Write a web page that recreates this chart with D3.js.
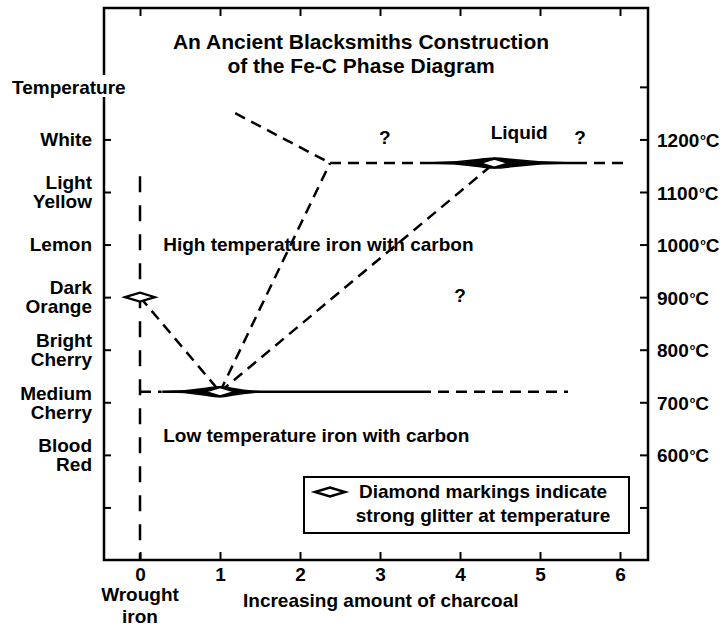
<!DOCTYPE html>
<html>
<head>
<meta charset="utf-8">
<script src="https://cdn.jsdelivr.net/npm/d3@7"></script>
<style>
  body { margin: 0; background: #fff; }
  svg text { font-family: "Liberation Sans", Arial, Helvetica, sans-serif; font-weight: bold; fill: #000; }
</style>
</head>
<body>
<script>
// ---- data ----
var charcoalTicks = [0, 1, 2, 3, 4, 5, 6];
var tempTicks = [1300, 1200, 1100, 1000, 900, 800, 700, 600, 500];
var celsiusLabels = [1200, 1100, 1000, 900, 800, 700, 600];
var colourTemps = [1200, 1100, 1000, 900, 800, 700, 600];
var colourNames = [["White"], ["Light", "Yellow"], ["Lemon"], ["Dark", "Orange"],
                   ["Bright", "Cherry"], ["Medium", "Cherry"], ["Blood", "Red"]];

// phase boundaries as [charcoal1, temp1, charcoal2, temp2]
var wroughtLine = [0, 1130, 0, 400];
var dashedLines = [
  [0, 900, 1, 720],
  [1, 720, 2.375, 1155],
  [1, 720, 4.43, 1155],
  [1.19, 1250, 2.375, 1155],
  [2.375, 1155, 3.6, 1155],
  [5.45, 1155, 6.1, 1155],
  [0, 720, 0.27, 720],
  [3.5, 720, 5.35, 720]
];
var solidLines = [
  [3.6, 1155, 5.45, 1155],
  [0.28, 720, 3.5, 720]
];
// glitter bands: [start, peak, end, temp]
var glitterBands = [
  [0.28, 1.0, 1.6, 720],
  [3.6, 4.43, 5.4, 1155]
];
var glitterPoints = [[0, 900], [1, 720], [4.43, 1155]];
var questionMarks = [[3.06, 1205], [5.5, 1205], [4.0, 904]];
var regionText = ["Liquid", "High temperature iron with carbon", "Low temperature iron with carbon"];
var regionAt = [[4.74, 1214], [0.29, 1000], [0.29, 638]];
var regionAnchor = ["middle", "start", "start"];

var width = 722, height = 628;

var x = d3.scaleLinear().domain([-0.45, 6.35]).range([104, 648]);
var y = d3.scaleLinear().domain([400, 1450]).range([560, 8]);

var svg = d3.select("body").append("svg")
  .attr("width", width)
  .attr("height", height);

// axes (ticks pointing inward)
function styleAxis(g) {
  g.select(".domain").remove();
  g.selectAll(".tick line").attr("stroke", "#000").attr("stroke-width", 2);
  g.selectAll(".tick text").style("font-size", "19px").attr("fill", "#000");
}

svg.append("g")
  .attr("transform", "translate(0," + y(400) + ")")
  .call(d3.axisBottom(x).tickValues(charcoalTicks).tickSize(-8).tickSizeOuter(0).tickPadding(8)
    .tickFormat(d3.format("d")))
  .call(styleAxis);

svg.append("g")
  .attr("transform", "translate(0," + y(1450) + ")")
  .call(d3.axisTop(x).tickValues(charcoalTicks).tickSize(-8).tickSizeOuter(0).tickFormat(""))
  .call(styleAxis);

svg.append("g")
  .attr("transform", "translate(" + x(-0.45) + ",0)")
  .call(d3.axisLeft(y).tickValues(tempTicks).tickSize(-7).tickSizeOuter(0).tickFormat(""))
  .call(styleAxis);

var right = svg.append("g")
  .attr("transform", "translate(" + x(6.35) + ",0)")
  .call(d3.axisRight(y).tickValues(tempTicks).tickSize(-8).tickSizeOuter(0).tickPadding(9).tickFormat(""))
  .call(styleAxis);

// celsius labels with a small raised degree ring
right.selectAll(".tick").filter(function (d) { return celsiusLabels.indexOf(d) >= 0; })
  .append("text")
  .attr("x", 9).attr("y", 7)
  .style("font-size", "19px")
  .each(function (d) {
    var t = d3.select(this);
    t.append("tspan").text(d);
    t.append("tspan").attr("dy", -7).attr("dx", 1).style("font-size", "9px").text("o");
    t.append("tspan").attr("dy", 7).text("C");
  });

// frame
svg.append("rect")
  .attr("x", x(-0.45)).attr("y", y(1450))
  .attr("width", x(6.35) - x(-0.45)).attr("height", y(400) - y(1450))
  .attr("fill", "none").attr("stroke", "#000").attr("stroke-width", 2.5);

// title
var title = svg.append("text").attr("text-anchor", "middle").style("font-size", "21px");
title.append("tspan").attr("x", 361).attr("y", 49).text("An Ancient Blacksmiths Construction");
title.append("tspan").attr("x", 361).attr("y", 73).text("of the Fe-C Phase Diagram");

// left colour labels
svg.append("rect").attr("x", 10).attr("y", 75).attr("width", 120).attr("height", 22).attr("fill", "#fff");
svg.append("text").attr("x", 12).attr("y", y(1300)).attr("dy", "0.36em")
  .style("font-size", "19px").text("Temperature");

colourNames.forEach(function (lines, i) {
  var t = svg.append("text").attr("text-anchor", "end").style("font-size", "19px");
  var off = lines.length == 1 ? [0] : [-9.5, 9.5];
  lines.forEach(function (s, j) {
    t.append("tspan").attr("x", 92).attr("y", y(colourTemps[i]) + off[j]).attr("dy", "0.36em").text(s);
  });
});

// x axis captions
var wrought = svg.append("text").attr("text-anchor", "middle").style("font-size", "19px");
wrought.append("tspan").attr("x", x(0)).attr("y", 601).text("Wrought");
wrought.append("tspan").attr("x", x(0)).attr("y", 623).text("iron");
svg.append("text").attr("x", 243).attr("y", 607).style("font-size", "19px")
  .text("Increasing amount of charcoal");

// boundaries
svg.append("line")
  .attr("x1", x(wroughtLine[0])).attr("y1", y(wroughtLine[1]))
  .attr("x2", x(wroughtLine[2])).attr("y2", y(wroughtLine[3]))
  .attr("stroke", "#000").attr("stroke-width", 2.5).attr("stroke-dasharray", "16,13");

svg.selectAll(".dashed").data(dashedLines).enter().append("line")
  .attr("class", "dashed")
  .attr("x1", function (d) { return x(d[0]); }).attr("y1", function (d) { return y(d[1]); })
  .attr("x2", function (d) { return x(d[2]); }).attr("y2", function (d) { return y(d[3]); })
  .attr("stroke", "#000").attr("stroke-width", 2.5).attr("stroke-dasharray", "11,7");

svg.selectAll(".solid").data(solidLines).enter().append("line")
  .attr("class", "solid")
  .attr("x1", function (d) { return x(d[0]); }).attr("y1", function (d) { return y(d[1]); })
  .attr("x2", function (d) { return x(d[2]); }).attr("y2", function (d) { return y(d[3]); })
  .attr("stroke", "#000").attr("stroke-width", 2.5);

function lens(b) {
  var x1 = x(b[0]), xc = x(b[1]), x2 = x(b[2]), yy = y(b[3]), h = 5;
  var l1 = xc - x1, l2 = x2 - xc;
  return "M" + x1 + "," + yy +
    "C" + (xc - l1 * 0.4) + "," + yy + " " + (xc - l1 * 0.2) + "," + (yy - h) + " " + xc + "," + (yy - h) +
    "C" + (xc + l2 * 0.2) + "," + (yy - h) + " " + (xc + l2 * 0.4) + "," + yy + " " + x2 + "," + yy +
    "C" + (xc + l2 * 0.4) + "," + yy + " " + (xc + l2 * 0.2) + "," + (yy + h) + " " + xc + "," + (yy + h) +
    "C" + (xc - l1 * 0.2) + "," + (yy + h) + " " + (xc - l1 * 0.4) + "," + yy + " " + x1 + "," + yy + "Z";
}

svg.selectAll(".band").data(glitterBands).enter().append("path")
  .attr("class", "band")
  .attr("d", lens)
  .attr("fill", "#000").attr("stroke", "#000").attr("stroke-width", 1.5);

function diamond(cx, cy, w, h) {
  return "M" + (cx - w) + "," + cy + "L" + cx + "," + (cy - h) + "L" + (cx + w) + "," + cy + "L" + cx + "," + (cy + h) + "Z";
}

svg.selectAll(".glitter").data(glitterPoints).enter().append("path")
  .attr("class", "glitter")
  .attr("d", function (d) { return diamond(x(d[0]), y(d[1]), 15, 4.5); })
  .attr("fill", "#fff").attr("stroke", "#000").attr("stroke-width", 2.2);

// annotations
svg.selectAll(".q").data(questionMarks).enter().append("text")
  .attr("class", "q")
  .attr("x", function (d) { return x(d[0]); }).attr("y", function (d) { return y(d[1]); })
  .attr("dy", "0.36em").attr("text-anchor", "middle").style("font-size", "19px")
  .text("?");

svg.selectAll(".region").data(regionText).enter().append("text")
  .attr("class", "region")
  .attr("x", function (d, i) { return x(regionAt[i][0]); })
  .attr("y", function (d, i) { return y(regionAt[i][1]); })
  .attr("dy", "0.36em").attr("text-anchor", function (d, i) { return regionAnchor[i]; })
  .style("font-size", "19px")
  .text(function (d) { return d; });

// legend
var legend = svg.append("g");
legend.append("rect").attr("x", 304).attr("y", 477).attr("width", 325).attr("height", 56)
  .attr("fill", "#fff").attr("stroke", "#000").attr("stroke-width", 2);
legend.append("path").attr("d", diamond(330, 492, 15, 4.5))
  .attr("fill", "#fff").attr("stroke", "#000").attr("stroke-width", 2.5);
var lt = legend.append("text").attr("text-anchor", "middle").style("font-size", "19px");
lt.append("tspan").attr("x", 483).attr("y", 498).text("Diamond markings indicate");
lt.append("tspan").attr("x", 483).attr("y", 522).text("strong glitter at temperature");
</script>
</body>
</html>
